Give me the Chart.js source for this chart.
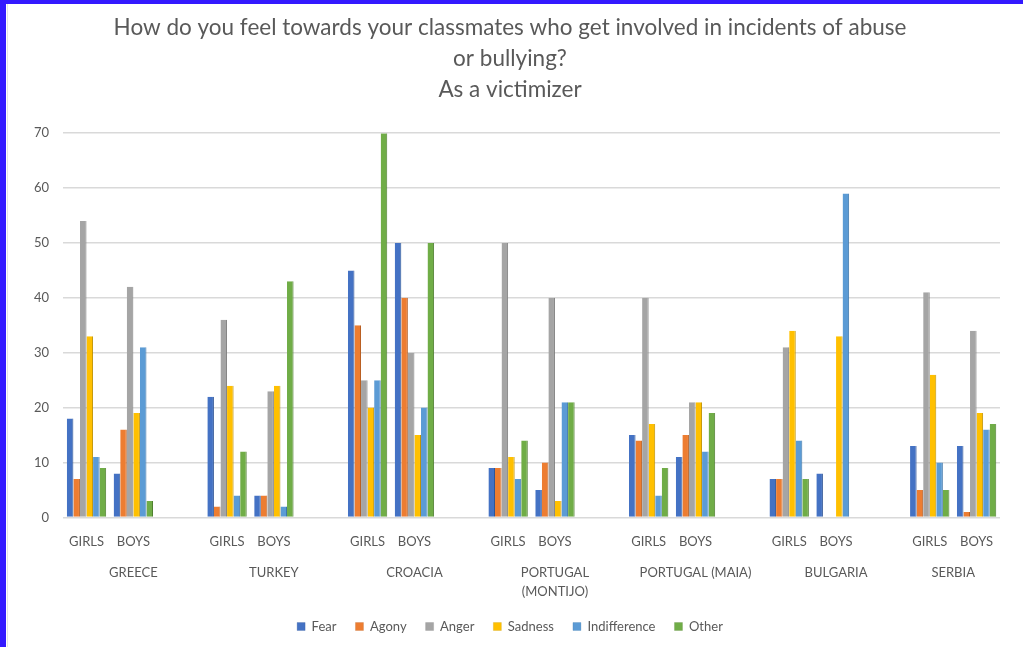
<!DOCTYPE html>
<html lang="en">
  <head>
    <meta charset="utf-8" />
    <title>How do you feel towards your classmates - As a victimizer</title>
    <style>
      html, body { margin: 0; padding: 0; background: #fff; }
      .frame {
        position: absolute; left: 0; top: 0;
        width: 1017px; height: 643px;
        border-top: 4px solid #3319ff;
        border-left: 6px solid #3319ff;
      }
      .chartBox { position: absolute; left: 1px; top: 0; width: 1016px; height: 643px; border-left: 1px solid #e4e4e4; }
    </style>
  </head>
  <body>
    <div class="frame">
      <div class="chartBox">
        <canvas id="myChart"></canvas>
      </div>
    </div>
    <script src="https://cdn.jsdelivr.net/npm/chart.js/dist/chart.umd.min.js"></script>
    <script>
      // one slot per bar group, empty slots separate the countries
      const slots = ["GIRLS", "BOYS", "", "GIRLS", "BOYS", "", "GIRLS", "BOYS", "",
        "GIRLS", "BOYS", "", "GIRLS", "BOYS", "", "GIRLS", "BOYS", "", "GIRLS", "BOYS"];
      const countries = ["GREECE", "TURKEY", "CROACIA", ["PORTUGAL", "(MONTIJO)"],
        "PORTUGAL (MAIA)", "BULGARIA", "SERBIA"];
      const countrySlots = [[0, 2], [3, 5], [6, 8], [9, 11], [12, 14], [15, 17], [18, 19]];

      const fear =         [18, 8, null, 22, 4, null, 45, 50, null, 9, 5, null, 15, 11, null, 7, 8, null, 13, 13];
      const agony =        [7, 16, null, 2, 4, null, 35, 40, null, 9, 10, null, 14, 15, null, 7, 0, null, 5, 1];
      const anger =        [54, 42, null, 36, 23, null, 25, 30, null, 50, 40, null, 40, 21, null, 31, 0, null, 41, 34];
      const sadness =      [33, 19, null, 24, 24, null, 20, 15, null, 11, 3, null, 17, 21, null, 34, 33, null, 26, 19];
      const indifference = [11, 31, null, 4, 2, null, 25, 20, null, 7, 21, null, 4, 12, null, 14, 59, null, 10, 16];
      const other =        [9, 3, null, 12, 43, null, 70, 50, null, 14, 21, null, 9, 19, null, 7, 0, null, 5, 17];

      const yTicks = [0, 10, 20, 30, 40, 50, 60, 70];

      const font = "Lato, 'Open Sans', sans-serif";
      const textColor = "#595959";

      function series(label, data, color, edge) {
        return {
          label: label,
          data: data,
          backgroundColor: color,
          borderColor: edge,
          borderWidth: { top: 0, left: 0, right: 1, bottom: 0 },
          barPercentage: 1,
          categoryPercentage: 0.84,
        };
      }

      const data = {
        labels: slots,
        datasets: [
          series("Fear", fear, "#4472C4", "#2f5597"),
          series("Agony", agony, "#ED7D31", "#b85f22"),
          series("Anger", anger, "#A5A5A5", "#7f7f7f"),
          series("Sadness", sadness, "#FFC000", "#bf9000"),
          series("Indifference", indifference, "#5B9BD5", "#3d76aa"),
          series("Other", other, "#70AD47", "#4f7f31"),
        ],
      };

      // country names under the GIRLS / BOYS labels
      const countryLabels = {
        id: "countryLabels",
        afterDraw(chart) {
          const x = chart.scales.x;
          const ctx = chart.ctx;
          ctx.save();
          ctx.font = "13px " + font;
          ctx.fillStyle = textColor;
          ctx.textAlign = "center";
          ctx.textBaseline = "middle";
          countries.forEach(function (name, i) {
            const a = x.getPixelForValue(countrySlots[i][0]);
            const b = x.getPixelForValue(countrySlots[i][1]);
            const lines = Array.isArray(name) ? name : [name];
            lines.forEach(function (line, j) {
              ctx.fillText(line, (a + b) / 2, x.top + 55 + j * 19);
            });
          });
          ctx.restore();
        },
      };

      const config = {
        type: "bar",
        data,
        plugins: [countryLabels],
        options: {
          responsive: true,
          maintainAspectRatio: false,
          animation: false,
          layout: { padding: { left: 12, right: 24, top: 6, bottom: 4 } },
          plugins: {
            title: {
              display: true,
              text: ["How do you feel towards your classmates who get involved in incidents of abuse", "or bullying?", "As a victimizer"],
              color: textColor,
              font: { family: font, size: 22.5, weight: "normal", lineHeight: 1.38 },
              padding: { top: 2, bottom: 28 },
            },
            legend: {
              position: "bottom",
              labels: {
                color: textColor,
                font: { family: font, size: 13 },
                boxWidth: 8,
                boxHeight: 8,
                padding: 19,
              },
            },
            tooltip: { enabled: false },
          },
          scales: {
            x: {
              grid: { display: false },
              border: { display: false },
              ticks: {
                color: textColor,
                font: { family: font, size: 13 },
                maxRotation: 0,
                autoSkip: false,
                padding: 9,
              },
              afterFit(axis) { axis.height += 42; },
            },
            y: {
              min: 0,
              max: 70,
              afterBuildTicks(axis) { axis.ticks = yTicks.map(function (v) { return { value: v }; }); },
              grid: { color: "#d9d9d9", lineWidth: 1.5, drawTicks: false },
              border: { display: false },
              ticks: {
                color: textColor,
                font: { family: font, size: 13 },
                padding: 14,
              },
            },
          },
        },
      };

      const myChart = new Chart(document.getElementById("myChart"), config);
    </script>
  </body>
</html>
